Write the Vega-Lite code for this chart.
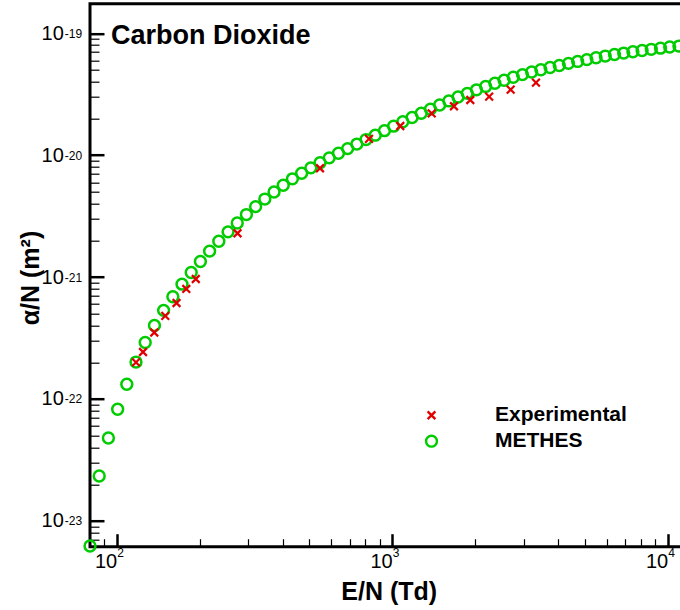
{
  "$schema": "https://vega.github.io/schema/vega-lite/v6.json",
  "width": 595,
  "height": 543,
  "autosize": {"type": "none"},
  "padding": {"left": 90, "top": 3.7, "right": 0, "bottom": 63.3},
  "background": "white",
  "config": {
    "view": {"stroke": "black", "strokeWidth": 3},
    "font": "Liberation Sans",
    "axis": {"grid": false, "labelOverlap": false, "labelFlush": false, "labelColor": "black", "tickColor": "black", "titleColor": "black", "labelFont": "Liberation Sans", "titleFont": "Liberation Sans"}
  },
  "title": {"text": "Carbon Dioxide", "anchor": "start", "frame": "group", "orient": "top", "offset": -67, "dx": 21, "baseline": "alphabetic", "font": "Liberation Sans", "fontSize": 27, "fontWeight": "bold", "color": "black"},
  "datasets": {
    "methes": [
      {"EN": 80.0, "alpha": 6.223e-24, "series": "METHES"},
      {"EN": 86.4, "alpha": 2.333e-23, "series": "METHES"},
      {"EN": 93.3, "alpha": 4.786e-23, "series": "METHES"},
      {"EN": 100.8, "alpha": 8.241e-23, "series": "METHES"},
      {"EN": 108.8, "alpha": 1.321e-22, "series": "METHES"},
      {"EN": 117.5, "alpha": 2.009e-22, "series": "METHES"},
      {"EN": 126.9, "alpha": 2.904e-22, "series": "METHES"},
      {"EN": 137.1, "alpha": 4.009e-22, "series": "METHES"},
      {"EN": 148.0, "alpha": 5.333e-22, "series": "METHES"},
      {"EN": 159.9, "alpha": 6.902e-22, "series": "METHES"},
      {"EN": 172.6, "alpha": 8.750e-22, "series": "METHES"},
      {"EN": 186.4, "alpha": 1.091e-21, "series": "METHES"},
      {"EN": 201.3, "alpha": 1.343e-21, "series": "METHES"},
      {"EN": 217.4, "alpha": 1.633e-21, "series": "METHES"},
      {"EN": 234.8, "alpha": 1.968e-21, "series": "METHES"},
      {"EN": 253.6, "alpha": 2.350e-21, "series": "METHES"},
      {"EN": 273.9, "alpha": 2.780e-21, "series": "METHES"},
      {"EN": 295.7, "alpha": 3.258e-21, "series": "METHES"},
      {"EN": 319.4, "alpha": 3.784e-21, "series": "METHES"},
      {"EN": 344.9, "alpha": 4.365e-21, "series": "METHES"},
      {"EN": 372.5, "alpha": 4.989e-21, "series": "METHES"},
      {"EN": 402.3, "alpha": 5.662e-21, "series": "METHES"},
      {"EN": 434.4, "alpha": 6.397e-21, "series": "METHES"},
      {"EN": 469.2, "alpha": 7.112e-21, "series": "METHES"},
      {"EN": 506.7, "alpha": 7.870e-21, "series": "METHES"},
      {"EN": 547.2, "alpha": 8.670e-21, "series": "METHES"},
      {"EN": 590.9, "alpha": 9.506e-21, "series": "METHES"},
      {"EN": 638.2, "alpha": 1.038e-20, "series": "METHES"},
      {"EN": 689.2, "alpha": 1.132e-20, "series": "METHES"},
      {"EN": 744.3, "alpha": 1.233e-20, "series": "METHES"},
      {"EN": 803.8, "alpha": 1.343e-20, "series": "METHES"},
      {"EN": 868.0, "alpha": 1.459e-20, "series": "METHES"},
      {"EN": 937.4, "alpha": 1.589e-20, "series": "METHES"},
      {"EN": 1012, "alpha": 1.730e-20, "series": "METHES"},
      {"EN": 1093, "alpha": 1.879e-20, "series": "METHES"},
      {"EN": 1181, "alpha": 2.037e-20, "series": "METHES"},
      {"EN": 1275, "alpha": 2.208e-20, "series": "METHES"},
      {"EN": 1377, "alpha": 2.388e-20, "series": "METHES"},
      {"EN": 1487, "alpha": 2.582e-20, "series": "METHES"},
      {"EN": 1606, "alpha": 2.786e-20, "series": "METHES"},
      {"EN": 1734, "alpha": 2.999e-20, "series": "METHES"},
      {"EN": 1873, "alpha": 3.214e-20, "series": "METHES"},
      {"EN": 2023, "alpha": 3.436e-20, "series": "METHES"},
      {"EN": 2184, "alpha": 3.664e-20, "series": "METHES"},
      {"EN": 2359, "alpha": 3.890e-20, "series": "METHES"},
      {"EN": 2548, "alpha": 4.121e-20, "series": "METHES"},
      {"EN": 2751, "alpha": 4.355e-20, "series": "METHES"},
      {"EN": 2971, "alpha": 4.581e-20, "series": "METHES"},
      {"EN": 3209, "alpha": 4.808e-20, "series": "METHES"},
      {"EN": 3465, "alpha": 5.023e-20, "series": "METHES"},
      {"EN": 3742, "alpha": 5.236e-20, "series": "METHES"},
      {"EN": 4041, "alpha": 5.445e-20, "series": "METHES"},
      {"EN": 4365, "alpha": 5.662e-20, "series": "METHES"},
      {"EN": 4713, "alpha": 5.875e-20, "series": "METHES"},
      {"EN": 5090, "alpha": 6.081e-20, "series": "METHES"},
      {"EN": 5497, "alpha": 6.295e-20, "series": "METHES"},
      {"EN": 5937, "alpha": 6.501e-20, "series": "METHES"},
      {"EN": 6411, "alpha": 6.699e-20, "series": "METHES"},
      {"EN": 6924, "alpha": 6.879e-20, "series": "METHES"},
      {"EN": 7477, "alpha": 7.055e-20, "series": "METHES"},
      {"EN": 8075, "alpha": 7.220e-20, "series": "METHES"},
      {"EN": 8720, "alpha": 7.388e-20, "series": "METHES"},
      {"EN": 9418, "alpha": 7.551e-20, "series": "METHES"},
      {"EN": 10170, "alpha": 7.709e-20, "series": "METHES"},
      {"EN": 10983, "alpha": 7.852e-20, "series": "METHES"}
    ],
    "exp": [
      {"EN": 117.5, "alpha": 2.00e-22, "series": "Experimental"},
      {"EN": 124.6, "alpha": 2.43e-22, "series": "Experimental"},
      {"EN": 136.9, "alpha": 3.51e-22, "series": "Experimental"},
      {"EN": 150.1, "alpha": 4.80e-22, "series": "Experimental"},
      {"EN": 164.9, "alpha": 6.13e-22, "series": "Experimental"},
      {"EN": 178.9, "alpha": 7.99e-22, "series": "Experimental"},
      {"EN": 193.7, "alpha": 9.65e-22, "series": "Experimental"},
      {"EN": 274.5, "alpha": 2.29e-21, "series": "Experimental"},
      {"EN": 547, "alpha": 7.81e-21, "series": "Experimental"},
      {"EN": 824, "alpha": 1.363e-20, "series": "Experimental"},
      {"EN": 1070, "alpha": 1.736e-20, "series": "Experimental"},
      {"EN": 1391, "alpha": 2.206e-20, "series": "Experimental"},
      {"EN": 1676, "alpha": 2.519e-20, "series": "Experimental"},
      {"EN": 1921, "alpha": 2.837e-20, "series": "Experimental"},
      {"EN": 2249, "alpha": 3.02e-20, "series": "Experimental"},
      {"EN": 2692, "alpha": 3.446e-20, "series": "Experimental"},
      {"EN": 3326, "alpha": 3.933e-20, "series": "Experimental"}
    ]
  },
  "layer": [
    {
      "data": {"name": "methes"},
      "mark": {"type": "point", "filled": false, "strokeWidth": 2.5, "opacity": 1, "clip": false},
      "encoding": {
        "x": {"field": "EN", "type": "quantitative",
          "scale": {"type": "log", "domain": [80, 11558], "nice": false},
          "axis": {"orient": "bottom", "values": [100, 1000, 10000], "domain": false, "labels": false, "tickSize": -13, "tickWidth": 2.5,
            "title": "E/N (Td)", "titleFontSize": 25, "titleFontWeight": "bold", "titleX": 298.7, "titleY": 52.6, "titleAlign": "center", "titleBaseline": "alphabetic", "titleAngle": 0}},
        "y": {"field": "alpha", "type": "quantitative",
          "scale": {"type": "log", "domain": [6.143e-24, 1.7484e-19], "nice": false},
          "axis": {"orient": "left", "values": [1e-23, 1e-22, 1e-21, 1e-20, 1e-19], "domain": false, "labels": false, "tickSize": -14, "tickWidth": 2.5,
            "title": "α/N (m²)", "titleFontSize": 25, "titleFontWeight": "bold", "titleX": -51.5, "titleY": 273.8, "titleAlign": "center", "titleBaseline": "alphabetic", "titleAngle": 270}},
        "color": {"field": "series", "type": "nominal",
          "scale": {"domain": ["Experimental", "METHES"], "range": ["#e00000", "#00cc00"]},
          "legend": {"orient": "none", "legendX": 331, "legendY": 401, "title": null, "padding": 0,
            "labelFont": "Liberation Sans", "labelFontSize": 21, "labelFontWeight": "bold", "labelColor": "black",
            "labelOffset": 53, "rowPadding": 4, "symbolStrokeWidth": 2.4, "symbolOpacity": 1}},
        "shape": {"field": "series", "type": "nominal",
          "scale": {"domain": ["Experimental", "METHES"], "range": ["M-1,-1L1,1M-1,1L1,-1", "circle"]}},
        "size": {"field": "series", "type": "nominal",
          "scale": {"domain": ["Experimental", "METHES"], "range": [60, 118]}}
      }
    },
    {
      "data": {"name": "exp"},
      "mark": {"type": "point", "filled": false, "strokeWidth": 2.2, "opacity": 1, "clip": false},
      "encoding": {
        "x": {"field": "EN", "type": "quantitative",
          "axis": {"orient": "bottom", "values": [90, 200, 300, 400, 500, 600, 700, 800, 900, 2000, 3000, 4000, 5000, 6000, 7000, 8000, 9000], "domain": false, "labels": false, "tickSize": -8, "tickWidth": 1.2, "title": null}},
        "y": {"field": "alpha", "type": "quantitative",
          "axis": {"orient": "left", "values": [7e-24, 8e-24, 9e-24, 2e-23, 3e-23, 4e-23, 5e-23, 6e-23, 7e-23, 8e-23, 9e-23, 2e-22, 3e-22, 4e-22, 5e-22, 6e-22, 7e-22, 8e-22, 9e-22, 2e-21, 3e-21, 4e-21, 5e-21, 6e-21, 7e-21, 8e-21, 9e-21, 2e-20, 3e-20, 4e-20, 5e-20, 6e-20, 7e-20, 8e-20, 9e-20], "domain": false, "labels": false, "tickSize": -9, "tickWidth": 1.2, "title": null}},
        "color": {"field": "series", "type": "nominal"},
        "shape": {"field": "series", "type": "nominal"},
        "size": {"field": "series", "type": "nominal"}
      }
    },
    {
      "data": {"name": "methes"},
      "mark": {"type": "point", "opacity": 0},
      "encoding": {
        "x": {"field": "EN", "type": "quantitative",
          "axis": {"orient": "bottom", "values": [100, 1000, 10000], "domain": false, "ticks": false, "labelExpr": "'10'", "labelAlign": "right", "labelDx": 6.6, "labelBaseline": "top", "labelPadding": 5.1, "labelFontSize": 20, "title": null}},
        "y": {"field": "alpha", "type": "quantitative",
          "axis": {"orient": "left", "values": [1e-23, 1e-22, 1e-21, 1e-20, 1e-19], "domain": false, "ticks": false, "labelExpr": "'10'", "labelAlign": "right", "labelBaseline": "middle", "labelDy": 2, "labelPadding": 26.7, "labelFontSize": 20, "title": null}}
      }
    },
    {
      "data": {"name": "methes"},
      "mark": {"type": "point", "opacity": 0},
      "encoding": {
        "x": {"field": "EN", "type": "quantitative",
          "axis": {"orient": "bottom", "values": [100, 1000, 10000], "domain": false, "ticks": false, "labelExpr": "'' + round(log(datum.value) / LN10)", "labelAlign": "left", "labelDx": 7.5, "labelBaseline": "top", "labelPadding": 0.7, "labelFontSize": 12, "title": null}},
        "y": {"field": "alpha", "type": "quantitative",
          "axis": {"orient": "left", "values": [1e-23, 1e-22, 1e-21, 1e-20, 1e-19], "domain": false, "ticks": false, "labelExpr": "'' + round(log(datum.value) / LN10)", "labelAlign": "left", "labelBaseline": "middle", "labelDy": -8, "labelPadding": 25.7, "labelFontSize": 12, "title": null}}
      }
    }
  ],
  "resolve": {"axis": {"x": "independent", "y": "independent"}}
}
